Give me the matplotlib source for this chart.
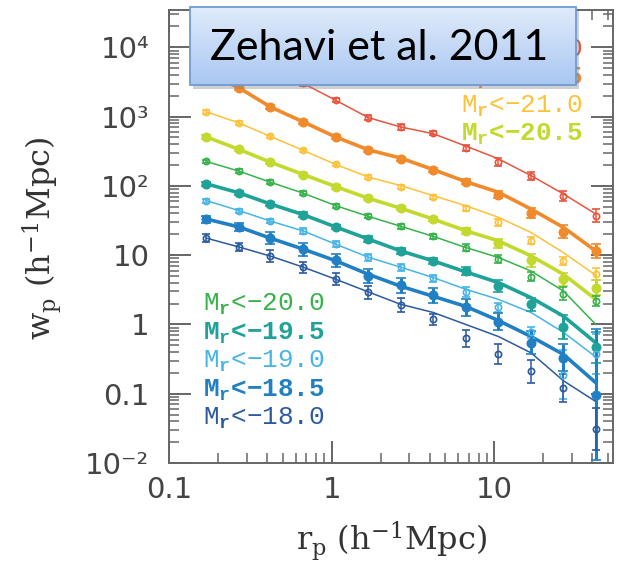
import numpy as np
import matplotlib

matplotlib.use("Agg")
import matplotlib.pyplot as plt
from matplotlib.colors import LinearSegmentedColormap
from matplotlib.patches import Rectangle
from matplotlib.ticker import LogLocator, NullFormatter

# projected separation bins (h^-1 Mpc)
rp = [0.17, 0.27, 0.42, 0.67, 1.06, 1.68, 2.66, 4.21, 6.68, 10.6, 16.8, 26.6, 42.1]

# measured w_p (offset per sample) and best-fit HOD model, per luminosity threshold
wp_220 = [13500, 8180, 4960, 3010, 1720, 967, 709, 581, 353, 221, 140, 71.1, 37.1]
fit_220 = [13500, 8180, 4960, 3010, 1720, 967, 709, 567, 376, 246, 141, 76.6, 39.3]
err_220 = [0.03, 0.03, 0.03, 0.03, 0.03, 0.035, 0.04, 0.035, 0.04, 0.06, 0.06, 0.07, 0.095]

wp_215 = [4340, 2600, 1380, 838, 508, 332, 246, 171, 115, 74.1, 40.6, 21.8, 11.5]
fit_215 = [4340, 2600, 1380, 838, 508, 332, 252, 172, 115, 81, 46.4, 25.2, 11.5]
err_215 = [0.025, 0.025, 0.025, 0.025, 0.025, 0.025, 0.03, 0.03, 0.035, 0.05, 0.07, 0.095, 0.095]

wp_210 = [1170, 810, 518, 325, 204, 134, 97.7, 70, 47.5, 29.8, 16.1, 8.19, 5.31]
fit_210 = [1170, 810, 518, 325, 204, 134, 101, 72.3, 51.8, 35.2, 21.3, 10.9, 5.13]
err_210 = [0.025, 0.025, 0.025, 0.025, 0.025, 0.03, 0.03, 0.03, 0.04, 0.05, 0.05, 0.06, 0.085]

wp_205 = [508, 336, 220, 146, 97.7, 66.3, 47.5, 33.2, 22.5, 14.8, 8.47, 4.49, 3.40]
fit_205 = [508, 336, 220, 146, 97.7, 66.3, 47.5, 33.2, 22.5, 16.1, 9.77, 5.31, 2.30]
err_205 = [0.025, 0.025, 0.025, 0.025, 0.03, 0.03, 0.03, 0.035, 0.045, 0.06, 0.095, 0.095, 0.11]

wp_200 = [225, 163, 113, 78.4, 51.8, 36.4, 26.1, 18.7, 12.9, 8.75, 4.91, 2.79, 2.18]
fit_200 = [225, 163, 113, 78.4, 51.8, 36.4, 26.1, 18.7, 12.9, 9.26, 5.92, 3.04, 1.0]
err_200 = [0.025, 0.025, 0.03, 0.03, 0.03, 0.03, 0.035, 0.035, 0.045, 0.055, 0.07, 0.095, 0.07]

wp_195 = [107, 79.2, 54.8, 38.4, 25.5, 17.1, 11.5, 8.27, 5.92, 3.56, 1.95, 0.914, 0.465]
fit_195 = [107, 79.2, 54.8, 38.4, 25.5, 17.1, 11.5, 8.27, 5.73, 4.02, 2.44, 1.32, 0.543]
err_195 = [0.03, 0.03, 0.03, 0.035, 0.035, 0.04, 0.04, 0.045, 0.06, 0.085, 0.095, 0.17, 0.22]

wp_190 = [61.2, 43.9, 31.1, 22.3, 14.4, 9.35, 6.7, 4.64, 2.91, 1.76, 0.766, 0.188, 0.37]
fit_190 = [61.2, 43.9, 31.1, 22.3, 14.4, 9.35, 6.7, 4.75, 3.22, 2.30, 1.49, 0.77, 0.34]
err_190 = [0.03, 0.03, 0.035, 0.04, 0.045, 0.05, 0.05, 0.05, 0.07, 0.07, 0.085, 0.35, 0.29]

wp_185 = [33.2, 25.5, 17.6, 12.2, 8.47, 4.96, 3.67, 2.63, 1.76, 1.10, 0.548, 0.333, 0.097]
fit_185 = [33.2, 25.5, 17.6, 12.2, 8.3, 5.3, 3.56, 2.55, 1.82, 1.14, 0.67, 0.37, 0.144]
err_185 = [0.05, 0.06, 0.085, 0.095, 0.095, 0.1, 0.11, 0.11, 0.12, 0.12, 0.16, 0.2, 0.95]

wp_180 = [17.6, 13.1, 9.7, 6.7, 4.49, 2.91, 1.89, 1.18, 0.63, 0.37, 0.21, 0.122, 0.031]
fit_180 = [17.6, 13.1, 9.7, 6.7, 4.49, 2.95, 1.95, 1.49, 1.0, 0.67, 0.39, 0.154, 0.077]
err_180 = [0.06, 0.06, 0.085, 0.08, 0.085, 0.095, 0.1, 0.085, 0.12, 0.145, 0.17, 0.2, 0.3]

thresholds = ["−22.0", "−21.5", "−21.0", "−20.5", "−20.0", "−19.5", "−19.0", "−18.5", "−18.0"]
wp_all = [wp_220, wp_215, wp_210, wp_205, wp_200, wp_195, wp_190, wp_185, wp_180]
fit_all = [fit_220, fit_215, fit_210, fit_205, fit_200, fit_195, fit_190, fit_185, fit_180]
err_all = [err_220, err_215, err_210, err_205, err_200, err_195, err_190, err_185, err_180]

colors = ["#e8553f", "#f08a2a", "#fdc23a", "#c4d92e", "#37b24b",
          "#1fa398", "#46b5e5", "#2180c4", "#2b5a9f"]
heavy = [False, True, False, True, False, True, False, True, False]

y_ticks = [1e-2, 0.1, 1, 10, 1e2, 1e3, 1e4]
y_ticklabels = ["10⁻²", "0.1", "1", "10", "10²", "10³", "10⁴"]
x_ticks = [0.1, 1, 10]
x_ticklabels = ["0.1", "1", "10"]

plt.rcParams["mathtext.rm"] = "Liberation Mono"
plt.rcParams["mathtext.bf"] = "Liberation Mono:bold"
plt.rcParams["mathtext.it"] = "Liberation Mono:italic"

W, H = 629, 562
fig = plt.figure(figsize=(W / 100, H / 100), dpi=100)
ax = fig.add_axes([169 / W, 1 - 463 / H, 444 / W, 453 / H])

x = np.array(rp)
for wp, fit, err, col, hv in zip(wp_all, fit_all, err_all, colors, heavy):
    wp = np.array(wp)
    d = np.array(err)
    lo = wp * (1 - 10 ** -d)
    hi = wp * (10 ** d - 1)
    lw = 2.6 if hv else 1.1
    ax.plot(x, fit, color=col, lw=lw, zorder=2)
    ax.errorbar(x, wp, yerr=[lo, hi], fmt="o", color=col,
                ms=6 if hv else 4.5, mfc=col if hv else "none", mew=1.2,
                elinewidth=2.2 if hv else 1.1, capsize=3.6 if hv else 3,
                capthick=2.2 if hv else 1.1, zorder=3)

ax.set_xscale("log")
ax.set_yscale("log")
ax.set_xlim(0.1, 53.7)
ax.set_ylim(1e-2, 3.46e4)

ax.set_xticks(x_ticks, x_ticklabels)
ax.set_yticks(y_ticks, y_ticklabels)
ax.xaxis.set_minor_locator(LogLocator(base=10, subs=np.arange(2, 10), numticks=100))
ax.yaxis.set_minor_locator(LogLocator(base=10, subs=np.arange(2, 10), numticks=100))
ax.xaxis.set_minor_formatter(NullFormatter())
ax.yaxis.set_minor_formatter(NullFormatter())
ax.tick_params(which="both", direction="in", top=True, right=True, color="#666",
               labelcolor="#444", labelsize=21)
ax.tick_params(which="major", length=16, width=1.4)
ax.tick_params(which="minor", length=7, width=1.1)
ax.tick_params(axis="x", pad=9)
ax.tick_params(axis="y", pad=14)
for sp in ax.spines.values():
    sp.set_color("#666")
    sp.set_linewidth(1.4)

# threshold labels
right_y = [0.896, 0.834, 0.773, 0.711]
left_y = [0.3355, 0.2715, 0.2097, 0.1457, 0.0839]
for i, (lab, col, hv) in enumerate(zip(thresholds, colors, heavy)):
    if i < 4:
        xx, yy, ha = 0.9324, right_y[i], "right"
    else:
        xx, yy, ha = 0.0766, left_y[i - 4], "left"
    ax.text(xx, yy, r"M$_\mathbf{r}$<" + lab, transform=ax.transAxes, ha=ha,
            va="baseline", color=col, fontsize=18.7,
            family=["Liberation Mono", "DejaVu Sans Mono"],
            fontweight="bold" if hv else "normal", math_fontfamily="custom")

fig.text(392 / W, 1 - 551 / H, r"r$_\mathrm{p}$ (h$^{-1}$Mpc)", ha="center",
         va="baseline", fontsize=23, color="#333", family="DejaVu Serif",
         math_fontfamily="dejavuserif")
fig.text(42 / W, 1 - 238 / H, r"w$_\mathrm{p}$ (h$^{-1}$Mpc)", ha="center",
         va="center", rotation=90, fontsize=23, color="#333",
         family="DejaVu Serif", math_fontfamily="dejavuserif")

# reference box over the top of the panel
bx, by, bw, bh = 190, 7, 386, 78
shadow = Rectangle(((bx + 3) / W, 1 - (by + bh + 4) / H), bw / W, bh / H,
                   transform=fig.transFigure, fc="#7a7a7a", ec="none",
                   alpha=0.35, zorder=3)
fig.add_artist(shadow)
box = fig.add_axes([bx / W, 1 - (by + bh) / H, bw / W, bh / H])
box.set_zorder(4)
grad = np.linspace(0, 1, 256).reshape(-1, 1)
cmap = LinearSegmentedColormap.from_list("boxfill", ["#e0ebfb", "#a9c7f1"])
box.imshow(grad, aspect="auto", cmap=cmap, extent=[0, 1, 0, 1], origin="upper")
box.add_patch(Rectangle((0, 0), 1, 1, transform=box.transAxes, fill=False,
                        ec="#6f9bd4", lw=1.3, clip_on=False))
box.set_axis_off()
box.text(0.49, 0.47, "Zehavi et al. 2011", transform=box.transAxes, ha="center",
         va="center", fontsize=31, color="black", family="Lato")

fig.savefig("out.png", dpi=100)
